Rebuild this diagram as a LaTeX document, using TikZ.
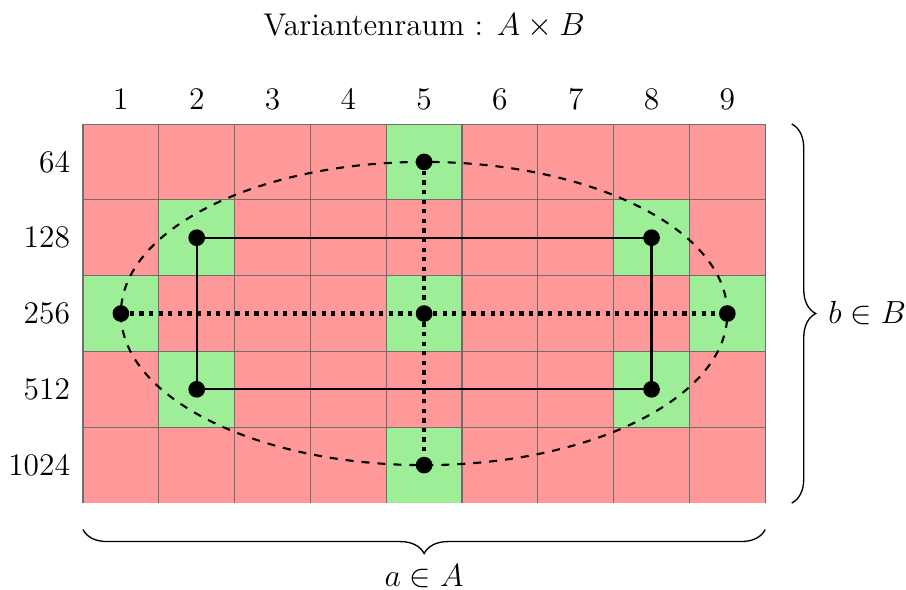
\documentclass[tikz,border=0pt]{standalone}
\usetikzlibrary{decorations.pathreplacing,shapes.geometric}
\definecolor{cellred}{RGB}{255,153,153}
\definecolor{cellgreen}{RGB}{158,238,152}
\definecolor{gridgray}{RGB}{110,110,110}
\begin{document}
\begin{tikzpicture}[
  font=\fontsize{11.8}{14}\selectfont,
  cell/.style={minimum size=1cm, inner sep=0pt, outer sep=0pt, fill=cellred},
  ok/.style={fill=cellgreen},
  pt/.style={circle, fill=black, minimum size=0.22cm, inner sep=0pt},
  brc/.style={decorate, decoration={brace, amplitude=9pt}, line width=0.5pt},
]
\useasboundingbox (-1.095,1.636) rectangle (10.857,-6.135);
% cells
\foreach \c in {1,...,9}{
  \foreach \r in {1,...,5}{
    \node[cell] (c-\c-\r) at (\c-0.5,-\r+0.5) {};
  }
}
\foreach \c/\r in {5/1,2/2,8/2,1/3,5/3,9/3,2/4,8/4,5/5}{
  \node[cell,ok] at (c-\c-\r) {};
}
\draw[gridgray, line width=0.4pt] (c-1-1.north west) grid (c-9-5.south east);
% column labels
\foreach \c in {1,...,9}{
  \node[anchor=base] (col-\c) at (\c-0.5,0.19) {\c};
}
% row labels
\foreach \r/\v in {1/64,2/128,3/256,4/512,5/1024}{
  \node[anchor=east, inner sep=1pt] (row-\r) at (-0.13,-\r+0.5) {\v};
}
% title
\node (title) at (4.5,1.3) {Variantenraum : $A \times B$};
% ellipse
\node[draw, dashed, thick, ellipse, minimum width=8cm, minimum height=4cm, inner sep=0pt] (ell) at (4.5,-2.5) {};
% points
\node[pt] (p1) at (c-5-1) {};
\node[pt] (p2) at (c-2-2) {};
\node[pt] (p3) at (c-8-2) {};
\node[pt] (p4) at (c-1-3) {};
\node[pt] (p5) at (c-5-3) {};
\node[pt] (p6) at (c-9-3) {};
\node[pt] (p7) at (c-2-4) {};
\node[pt] (p8) at (c-8-4) {};
\node[pt] (p9) at (c-5-5) {};
% connectors
\draw[thick] (p2.center) -- (p3.center) -- (p8.center) -- (p7.center) -- cycle;
\draw[line width=1.6pt, dotted] (p4) -- (p5) -- (p6);
\draw[line width=1.6pt, dotted] (p1) -- (p5) -- (p9);
% braces
\coordinate (bt) at (9.35,0);
\coordinate (bb) at (9.35,-5);
\draw[brc] (bt) -- (bb);
\node[anchor=west, inner sep=1pt] (lb) at (9.79,-2.5) {$b \in B$};
\coordinate (al) at (0,-5.35);
\coordinate (ar) at (9,-5.35);
\draw[brc] (ar) -- (al);
\node[inner sep=1pt] (la) at (4.5,-5.96) {$a \in A$};
\end{tikzpicture}
\end{document}
